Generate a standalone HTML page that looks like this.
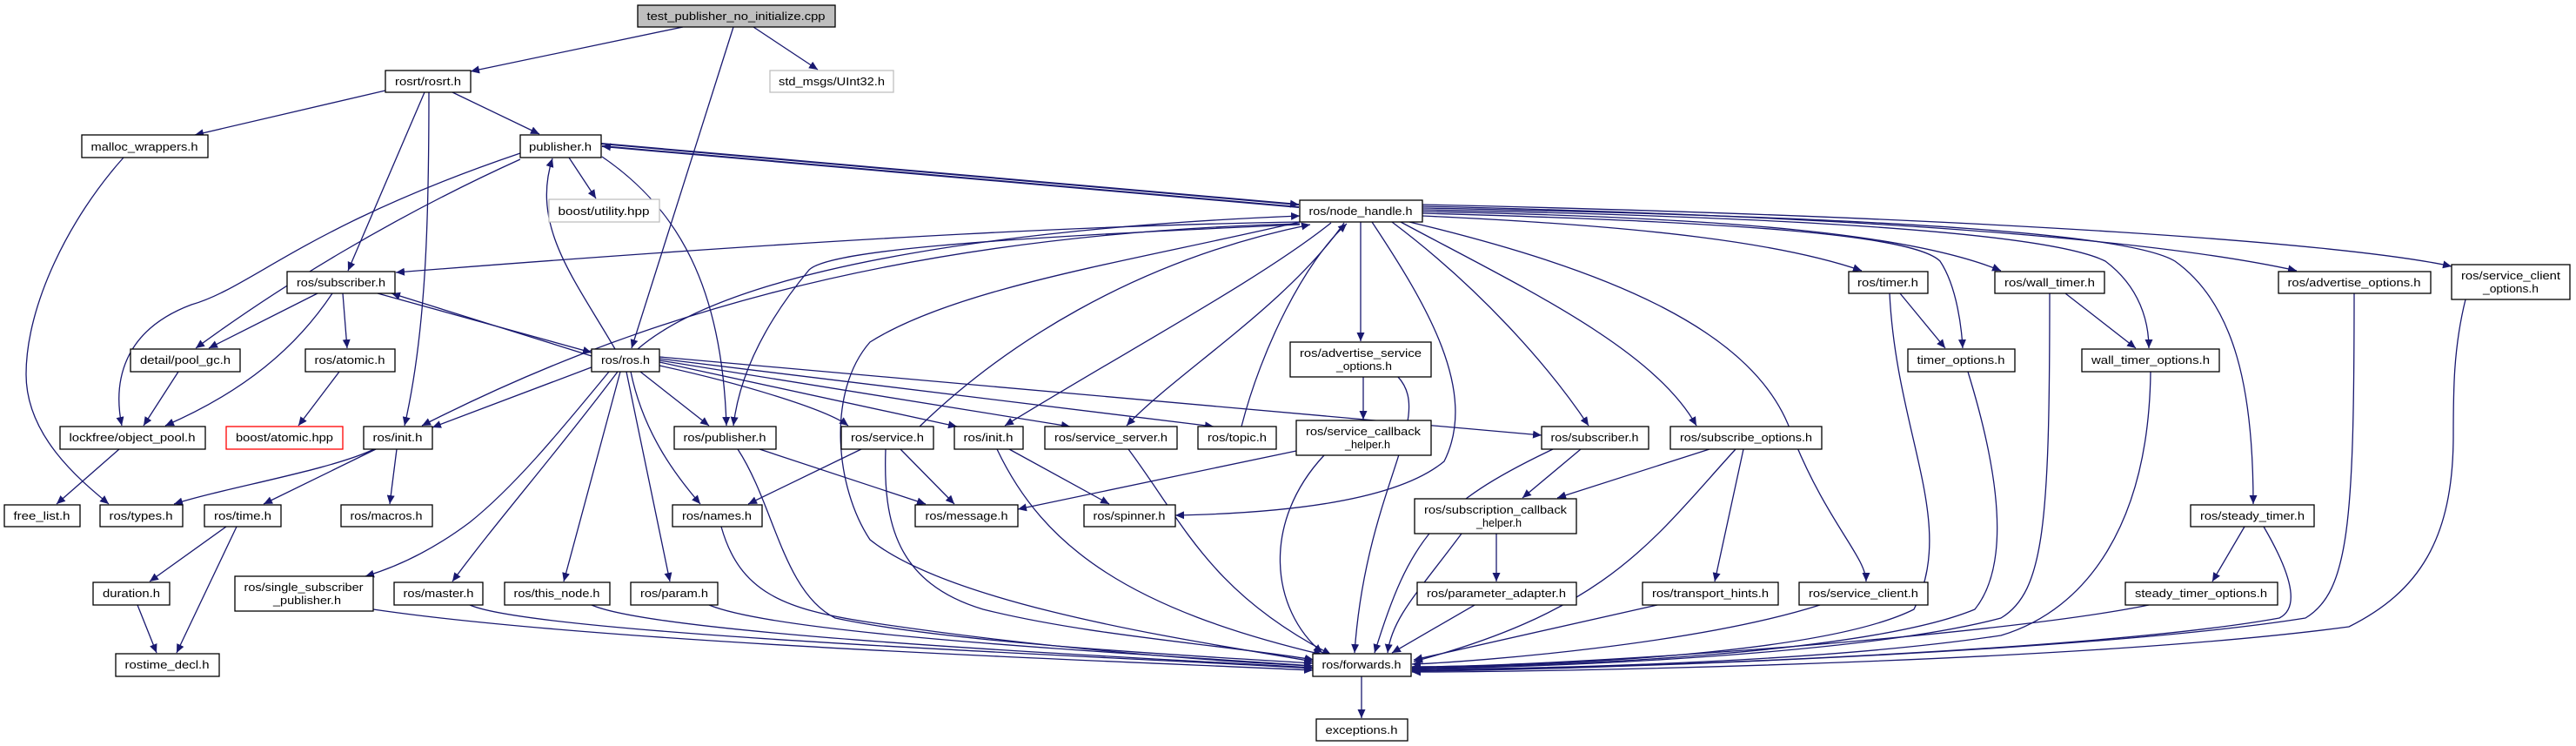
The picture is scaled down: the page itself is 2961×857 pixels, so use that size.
<!DOCTYPE html>
<html><head><meta charset="utf-8"><style>html,body{margin:0;padding:0;background:#fff}svg{display:block}</style></head>
<body>
<svg xmlns="http://www.w3.org/2000/svg" width="2961" height="857" viewBox="0 0 2961 857">
<defs>
<marker id="a" markerUnits="userSpaceOnUse" markerWidth="11" markerHeight="9" refX="10" refY="4.5" orient="auto"><path d="M0,0 L10,4.5 L0,9 z" fill="#191970"/></marker>
</defs>
<g fill="none" stroke="#191970" stroke-width="1.3" marker-end="url(#a)">
<path d="M785 31 L541 82"/>
<path d="M843 31 L726 400"/>
<path d="M866 31 L940 80"/>
<path d="M443 104 L224 155"/>
<path d="M520 106 L620 154"/>
<path d="M488 106 L400 311"/>
<path d="M493 106 C493 250 490 380 465 489"/>
<path d="M142 181 C80 250 30 350 30 430 C30 500 90 550 125 579"/>
<path d="M654 181 L685 228"/>
<path d="M691 165 L1493 235" stroke-width="2"/>
<path d="M1493 238 L692 168" stroke-width="2"/>
<path d="M598 183 C450 250 320 330 225 400"/>
<path d="M598 176 C350 260 290 330 220 350 C140 380 130 440 140 489"/>
<path d="M692 180 C780 240 830 330 835 489"/>
<path d="M1494 255 C1300 258 1000 270 455 313"/>
<path d="M365 337 L240 400"/>
<path d="M394 337 L399 400"/>
<path d="M382 337 C340 400 280 450 190 489"/>
<path d="M434 337 L680 405"/>
<path d="M680 409 L450 337"/>
<path d="M205 427 L165 489"/>
<path d="M390 427 L343 489"/>
<path d="M137 516 L65 579"/>
<path d="M707 401 C660 320 610 260 635 182"/>
<path d="M733 401 C850 300 1200 260 1494 248"/>
<path d="M685 420 L497 491"/>
<path d="M700 427 C640 500 590 560 540 600 C500 630 460 650 420 662"/>
<path d="M710 427 C640 520 570 600 520 668"/>
<path d="M713 427 L648 668"/>
<path d="M720 427 L770 668"/>
<path d="M725 427 C740 500 780 550 805 579"/>
<path d="M736 427 L815 489"/>
<path d="M758 420 C850 440 950 470 975 489"/>
<path d="M758 416 L1100 490"/>
<path d="M758 414 L1230 490"/>
<path d="M758 412 L1395 490"/>
<path d="M758 410 L1772 500"/>
<path d="M1494 257 C1000 270 700 380 485 489"/>
<path d="M1494 258 C1100 275 950 290 930 310 C880 370 850 430 843 489"/>
<path d="M1494 255 C1300 300 1100 330 1000 393 C950 450 960 560 1000 620 C1100 700 1400 740 1509 760"/>
<path d="M1530 256 C1450 320 1300 400 1155 489"/>
<path d="M1545 256 C1480 350 1350 430 1295 489"/>
<path d="M1427 490 C1450 400 1500 300 1548 257"/>
<path d="M1057 490 C1150 400 1300 300 1506 258"/>
<path d="M1564 255 L1564 392"/>
<path d="M1577 255 C1640 350 1700 450 1660 530 C1600 580 1450 590 1351 592"/>
<path d="M1607 433 C1650 480 1570 560 1557 750"/>
<path d="M1600 255 C1700 330 1780 420 1826 489"/>
<path d="M1610 255 C1750 330 1900 400 1950 489"/>
<path d="M1620 255 C1850 310 2020 380 2060 500 C2100 600 2145 640 2145 668"/>
<path d="M1635 248 C1900 260 2050 280 2140 311"/>
<path d="M1635 245 C2000 255 2200 270 2230 300 C2250 330 2255 380 2256 400"/>
<path d="M1635 243 C2000 250 2200 270 2300 311"/>
<path d="M1635 241 C2100 250 2360 270 2420 300 C2460 330 2470 370 2470 400"/>
<path d="M1635 239 C2200 250 2450 270 2500 300 C2570 350 2590 450 2590 579"/>
<path d="M1635 237 C2200 250 2500 280 2640 311"/>
<path d="M1635 235 C2300 250 2700 280 2818 306"/>
<path d="M873 516 L1064 579"/>
<path d="M848 516 C890 580 900 680 960 710 C1100 740 1400 755 1509 762"/>
<path d="M829 605 C850 680 900 700 1000 715 C1200 745 1400 760 1509 765"/>
<path d="M429 700 C700 740 1300 760 1509 770"/>
<path d="M540 695 C620 730 1300 755 1509 768"/>
<path d="M680 695 C760 730 1300 755 1509 767"/>
<path d="M815 695 C900 730 1300 750 1509 765"/>
<path d="M990 516 L860 579"/>
<path d="M1035 516 L1097 579"/>
<path d="M1018 516 C1015 600 1030 670 1130 700 C1250 730 1400 740 1510 758"/>
<path d="M1160 516 L1275 579"/>
<path d="M1146 516 C1200 630 1300 700 1520 752"/>
<path d="M1297 516 C1360 600 1390 680 1530 752"/>
<path d="M1567 433 L1567 482"/>
<path d="M1490 518 L1170 585"/>
<path d="M1522 523 C1450 600 1460 700 1520 750"/>
<path d="M1817 516 L1750 572"/>
<path d="M1785 516 C1650 580 1620 620 1580 750"/>
<path d="M1965 516 L1790 572"/>
<path d="M2004 516 L1971 668"/>
<path d="M1995 516 C1900 620 1850 700 1625 760"/>
<path d="M1720 613 L1720 668"/>
<path d="M1680 613 C1630 680 1600 710 1595 750"/>
<path d="M1695 695 L1600 750"/>
<path d="M1905 695 L1625 758"/>
<path d="M2092 695 C1950 740 1700 760 1623 763"/>
<path d="M2184 337 L2236 400"/>
<path d="M2172 337 C2180 500 2250 600 2200 700 C2100 750 1800 765 1623 766"/>
<path d="M2262 427 C2300 550 2310 650 2270 700 C2150 750 1800 766 1623 767"/>
<path d="M2374 337 L2455 400"/>
<path d="M2356 337 C2356 600 2350 680 2300 710 C2150 750 1800 767 1623 768"/>
<path d="M2472 427 C2470 600 2400 700 2300 730 C2100 760 1800 768 1623 769"/>
<path d="M2580 605 L2543 668"/>
<path d="M2602 605 C2640 670 2640 700 2620 710 C2400 750 1800 770 1623 770"/>
<path d="M2470 695 C2300 730 1800 766 1623 766"/>
<path d="M2706 337 C2706 600 2700 680 2650 710 C2400 750 1800 770 1623 771"/>
<path d="M2834 344 C2820 400 2820 450 2820 500 C2820 620 2780 680 2700 720 C2400 760 1800 772 1623 772"/>
<path d="M430 516 C380 540 260 560 200 579"/>
<path d="M432 516 L303 579"/>
<path d="M456 516 L448 579"/>
<path d="M260 605 L172 668"/>
<path d="M272 605 L203 750"/>
<path d="M158 695 L180 750"/>
<path d="M1565 777 L1565 825"/>
</g>
<g font-family="Liberation Sans, sans-serif" font-size="13" fill="#000" text-anchor="middle" stroke-width="1.3">
<g fill="#fff" stroke="#000">
<rect x="733" y="6" width="227" height="25" fill="#bfbfbf"/>
<rect x="443" y="81" width="98" height="25"/>
<rect x="885" y="81" width="142" height="25" stroke="#bfbfbf"/>
<rect x="94" y="155" width="145" height="26"/>
<rect x="598" y="155" width="93" height="26"/>
<rect x="631" y="229" width="127" height="26" stroke="#bfbfbf"/>
<rect x="1494" y="230" width="141" height="25"/>
<rect x="330" y="312" width="124" height="25"/>
<rect x="2125" y="312" width="91" height="25"/>
<rect x="2293" y="312" width="126" height="25"/>
<rect x="2619" y="312" width="175" height="25"/>
<rect x="2818" y="304" width="136" height="40"/>
<rect x="1483" y="393" width="162" height="40"/>
<rect x="150" y="401" width="126" height="26"/>
<rect x="351" y="401" width="103" height="26"/>
<rect x="680" y="401" width="78" height="26"/>
<rect x="2193" y="401" width="123" height="26"/>
<rect x="2393" y="401" width="158" height="26"/>
<rect x="69" y="490" width="167" height="26"/>
<rect x="260" y="490" width="134" height="26" stroke="#ff0000"/>
<rect x="418" y="490" width="79" height="26"/>
<rect x="775" y="490" width="117" height="26"/>
<rect x="967" y="490" width="106" height="26"/>
<rect x="1097" y="490" width="79" height="26"/>
<rect x="1201" y="490" width="152" height="26"/>
<rect x="1377" y="490" width="90" height="26"/>
<rect x="1490" y="483" width="155" height="40"/>
<rect x="1772" y="490" width="123" height="26"/>
<rect x="1920" y="490" width="174" height="26"/>
<rect x="5" y="580" width="87" height="25"/>
<rect x="115" y="580" width="95" height="25"/>
<rect x="235" y="580" width="88" height="25"/>
<rect x="392" y="580" width="105" height="25"/>
<rect x="773" y="580" width="103" height="25"/>
<rect x="1052" y="580" width="118" height="25"/>
<rect x="1246" y="580" width="105" height="25"/>
<rect x="1626" y="573" width="186" height="40"/>
<rect x="2518" y="580" width="142" height="25"/>
<rect x="107" y="669" width="88" height="26"/>
<rect x="270" y="662" width="159" height="40"/>
<rect x="453" y="669" width="102" height="26"/>
<rect x="580" y="669" width="121" height="26"/>
<rect x="725" y="669" width="100" height="26"/>
<rect x="1629" y="669" width="183" height="26"/>
<rect x="1888" y="669" width="156" height="26"/>
<rect x="2068" y="669" width="148" height="26"/>
<rect x="2443" y="669" width="175" height="26"/>
<rect x="133" y="751" width="119" height="26"/>
<rect x="1509" y="751" width="113" height="26"/>
<rect x="1513" y="826" width="105" height="25"/>
</g>
<text x="846" y="23" textLength="205" lengthAdjust="spacingAndGlyphs">test_publisher_no_initialize.cpp</text>
<text x="492" y="98" textLength="76" lengthAdjust="spacingAndGlyphs">rosrt/rosrt.h</text>
<text x="956" y="98" textLength="122" lengthAdjust="spacingAndGlyphs">std_msgs/UInt32.h</text>
<text x="166" y="173" textLength="123" lengthAdjust="spacingAndGlyphs">malloc_wrappers.h</text>
<text x="644" y="173" textLength="72" lengthAdjust="spacingAndGlyphs">publisher.h</text>
<text x="694" y="247" textLength="105" lengthAdjust="spacingAndGlyphs">boost/utility.hpp</text>
<text x="1564" y="247" textLength="119" lengthAdjust="spacingAndGlyphs">ros/node_handle.h</text>
<text x="392" y="329" textLength="102" lengthAdjust="spacingAndGlyphs">ros/subscriber.h</text>
<text x="2170" y="329" textLength="70" lengthAdjust="spacingAndGlyphs">ros/timer.h</text>
<text x="2356" y="329" textLength="104" lengthAdjust="spacingAndGlyphs">ros/wall_timer.h</text>
<text x="2706" y="329" textLength="153" lengthAdjust="spacingAndGlyphs">ros/advertise_options.h</text>
<text x="2886" y="321" textLength="114" lengthAdjust="spacingAndGlyphs">ros/service_client</text>
<text x="2886" y="336" textLength="64" lengthAdjust="spacingAndGlyphs">_options.h</text>
<text x="1564" y="410" textLength="140" lengthAdjust="spacingAndGlyphs">ros/advertise_service</text>
<text x="1568" y="425" textLength="64" lengthAdjust="spacingAndGlyphs">_options.h</text>
<text x="213" y="418" textLength="104" lengthAdjust="spacingAndGlyphs">detail/pool_gc.h</text>
<text x="402" y="418" textLength="81" lengthAdjust="spacingAndGlyphs">ros/atomic.h</text>
<text x="719" y="418" textLength="56" lengthAdjust="spacingAndGlyphs">ros/ros.h</text>
<text x="2254" y="418" textLength="101" lengthAdjust="spacingAndGlyphs">timer_options.h</text>
<text x="2472" y="418" textLength="136" lengthAdjust="spacingAndGlyphs">wall_timer_options.h</text>
<text x="152" y="507" textLength="145" lengthAdjust="spacingAndGlyphs">lockfree/object_pool.h</text>
<text x="327" y="507" textLength="112" lengthAdjust="spacingAndGlyphs">boost/atomic.hpp</text>
<text x="457" y="507" textLength="57" lengthAdjust="spacingAndGlyphs">ros/init.h</text>
<text x="833" y="507" textLength="95" lengthAdjust="spacingAndGlyphs">ros/publisher.h</text>
<text x="1020" y="507" textLength="84" lengthAdjust="spacingAndGlyphs">ros/service.h</text>
<text x="1136" y="507" textLength="57" lengthAdjust="spacingAndGlyphs">ros/init.h</text>
<text x="1277" y="507" textLength="130" lengthAdjust="spacingAndGlyphs">ros/service_server.h</text>
<text x="1422" y="507" textLength="68" lengthAdjust="spacingAndGlyphs">ros/topic.h</text>
<text x="1567" y="500" textLength="132" lengthAdjust="spacingAndGlyphs">ros/service_callback</text>
<text x="1572" y="515" textLength="52" lengthAdjust="spacingAndGlyphs">_helper.h</text>
<text x="1833" y="507" textLength="101" lengthAdjust="spacingAndGlyphs">ros/subscriber.h</text>
<text x="2007" y="507" textLength="152" lengthAdjust="spacingAndGlyphs">ros/subscribe_options.h</text>
<text x="48" y="597" textLength="65" lengthAdjust="spacingAndGlyphs">free_list.h</text>
<text x="162" y="597" textLength="73" lengthAdjust="spacingAndGlyphs">ros/types.h</text>
<text x="279" y="597" textLength="66" lengthAdjust="spacingAndGlyphs">ros/time.h</text>
<text x="444" y="597" textLength="83" lengthAdjust="spacingAndGlyphs">ros/macros.h</text>
<text x="824" y="597" textLength="80" lengthAdjust="spacingAndGlyphs">ros/names.h</text>
<text x="1111" y="597" textLength="95" lengthAdjust="spacingAndGlyphs">ros/message.h</text>
<text x="1298" y="597" textLength="83" lengthAdjust="spacingAndGlyphs">ros/spinner.h</text>
<text x="1719" y="590" textLength="164" lengthAdjust="spacingAndGlyphs">ros/subscription_callback</text>
<text x="1723" y="605" textLength="52" lengthAdjust="spacingAndGlyphs">_helper.h</text>
<text x="2589" y="597" textLength="120" lengthAdjust="spacingAndGlyphs">ros/steady_timer.h</text>
<text x="151" y="686" textLength="66" lengthAdjust="spacingAndGlyphs">duration.h</text>
<text x="349" y="679" textLength="137" lengthAdjust="spacingAndGlyphs">ros/single_subscriber</text>
<text x="353" y="694" textLength="78" lengthAdjust="spacingAndGlyphs">_publisher.h</text>
<text x="504" y="686" textLength="81" lengthAdjust="spacingAndGlyphs">ros/master.h</text>
<text x="640" y="686" textLength="99" lengthAdjust="spacingAndGlyphs">ros/this_node.h</text>
<text x="775" y="686" textLength="78" lengthAdjust="spacingAndGlyphs">ros/param.h</text>
<text x="1720" y="686" textLength="160" lengthAdjust="spacingAndGlyphs">ros/parameter_adapter.h</text>
<text x="1966" y="686" textLength="134" lengthAdjust="spacingAndGlyphs">ros/transport_hints.h</text>
<text x="2142" y="686" textLength="126" lengthAdjust="spacingAndGlyphs">ros/service_client.h</text>
<text x="2530" y="686" textLength="152" lengthAdjust="spacingAndGlyphs">steady_timer_options.h</text>
<text x="192" y="768" textLength="97" lengthAdjust="spacingAndGlyphs">rostime_decl.h</text>
<text x="1565" y="768" textLength="91" lengthAdjust="spacingAndGlyphs">ros/forwards.h</text>
<text x="1565" y="843" textLength="83" lengthAdjust="spacingAndGlyphs">exceptions.h</text>
</g>
</svg>
</body></html>
